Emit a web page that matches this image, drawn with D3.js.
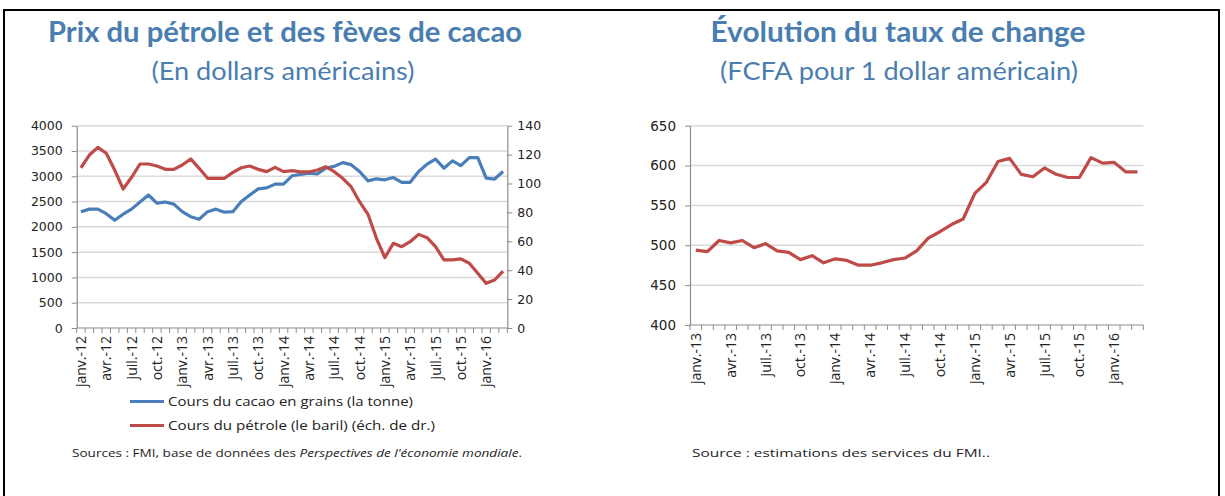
<!DOCTYPE html>
<html><head><meta charset="utf-8">
<script src="https://cdn.jsdelivr.net/npm/d3@7"></script>
<style>body{margin:0;background:#fff}svg{display:block}</style>
</head><body>
<svg id="c" width="1225" height="496"></svg>
<script>
// ---- data ----
const monthNames = ["janv.","févr.","mars","avr.","mai","juin","juil.","août","sept.","oct.","nov.","déc."];
function monthCats(startYear, n){ const out=[]; for(let i=0;i<n;i++){ const y=startYear+Math.floor(i/12); out.push(monthNames[i%12]+"-"+String(y).slice(2)); } return out; }
const categoriesLeft = monthCats(2012, 51);   // janv.-12 .. mars-16
const categoriesRight = monthCats(2013, 39);  // janv.-13 .. mars-16
const cocoa = [2300,2350,2350,2260,2130,2250,2350,2490,2630,2470,2490,2450,2300,2200,2150,2300,2350,2290,2300,2500,2630,2750,2770,2845,2845,3010,3035,3060,3045,3160,3195,3270,3230,3095,2910,2950,2930,2975,2880,2880,3095,3240,3340,3160,3305,3210,3370,3370,2965,2945,3095];
const oil = [110.9,119.7,125,120.9,109.3,96.2,104.3,113.5,113.5,112.1,109.8,109.8,112.8,117,110.5,103.6,103.6,103.6,107.7,110.9,112.1,109.8,108.2,111.2,108.2,108.9,108,108,109.3,111.6,108.2,103.6,97.8,87.4,78.7,62.1,48.7,58.6,56.3,59.7,64.8,62.5,56.3,47.1,47.1,47.8,44.8,37.9,30.9,33.2,39.4];
const fx = [494,492,506,503,506,497,502,493,491,482,487,478,483,481,475,475,478,482,484,493,509,517,526,533,565,579,605,609,589,586,597,589,585,585,610,603,604,592,592];
const leftTicks = [0,500,1000,1500,2000,2500,3000,3500,4000];
const rightTicks = [0,20,40,60,80,100,120,140];
const fxTicks = [400,450,500,550,600,650];
const legendLabels = ["Cours du cacao en grains (la tonne)","Cours du pétrole (le baril) (éch. de dr.)"];

const BLUE = "#4a7ebb", RED = "#be4b48", TITLE = "#4a7db0", AXIS = "#8c8c8c", GRID = "#d9d9d9";
const svg = d3.select("#c");

// frame
svg.append("rect").attr("x",4).attr("y",10).attr("width",1215).attr("height",500)
  .attr("fill","none").attr("stroke","#000").attr("stroke-width",2);

function title(x,y,txt,len,bold,size){
  svg.append("text").attr("x",x).attr("y",y).attr("text-anchor","middle")
    .attr("font-family","Lato, 'Open Sans', sans-serif").attr("font-weight",bold?700:400)
    .attr("font-size",size).attr("fill",TITLE)
    .attr("textLength",len).attr("lengthAdjust","spacingAndGlyphs").text(txt);
}
title(285,42,"Prix du pétrole et des fèves de cacao",474,true,28);
title(283,80,"(En dollars américains)",263,false,25);
title(898,42,"Évolution du taux de change",375,true,28);
title(899,80,"(FCFA pour 1 dollar américain)",358,false,25);

function xAxisDraw(g, x, y0, cats){
  const ax = g.append("g").attr("transform",`translate(0,${y0})`);
  ax.append("line").attr("x1",x.range()[0]).attr("x2",x.range()[1]).attr("stroke",AXIS).attr("stroke-width",1.2);
  const edges = cats.map(c=>x(c)).concat([x.range()[1]]);
  ax.selectAll("line.t").data(edges).join("line").attr("class","t")
    .attr("x1",d=>d).attr("x2",d=>d).attr("y1",0).attr("y2",5).attr("stroke",AXIS);
  ax.selectAll("text").data(cats.filter((c,i)=>i%3===0)).join("text")
    .attr("transform",d=>`translate(${x(d)+x.bandwidth()/2},8) rotate(-90)`)
    .attr("text-anchor","end").attr("dy","0.36em")
    .attr("font-family","'Open Sans', sans-serif").attr("font-size",14).attr("fill","#222").text(d=>d);
}
function grid(g, y, ticks, x0, x1){
  g.selectAll("line.g").data(ticks).join("line").attr("class","g")
    .attr("x1",x0).attr("x2",x1).attr("y1",d=>y(d)).attr("y2",d=>y(d)).attr("stroke",GRID).attr("stroke-width",1.5);
}
function styleAxis(sel, fs){
  sel.select(".domain").attr("stroke",AXIS).attr("stroke-width",1.2);
  sel.selectAll(".tick line").attr("stroke",AXIS);
  sel.selectAll(".tick text").attr("font-family","'DejaVu Sans', sans-serif").attr("font-size",fs).attr("fill","#222");
}
const fmt = d3.format("d");

// ---- left chart ----
{
  const g = svg.append("g");
  const x = d3.scaleBand().domain(categoriesLeft).range([76.7,507.3]).padding(0);
  const yL = d3.scaleLinear().domain([0,4000]).range([328,125.7]);
  const yR = d3.scaleLinear().domain([0,140]).range([328,125.7]);
  grid(g, yL, leftTicks.slice(1), 76.7, 507.3);
  const aL = g.append("g").attr("transform","translate(76.7,0)")
    .call(d3.axisLeft(yL).tickValues(leftTicks).tickFormat(fmt).tickSize(5).tickPadding(9).tickSizeOuter(0));
  styleAxis(aL, 12.5);
  const aR = g.append("g").attr("transform","translate(507.3,0)")
    .call(d3.axisRight(yR).tickValues(rightTicks).tickFormat(fmt).tickSize(5).tickPadding(5).tickSizeOuter(0));
  styleAxis(aR, 12.5);
  xAxisDraw(g, x, 328, categoriesLeft);
  const cx = c => x(c)+x.bandwidth()/2;
  g.append("path").datum(cocoa).attr("fill","none").attr("stroke",BLUE).attr("stroke-width",3.2).attr("stroke-linejoin","round")
    .attr("d", d3.line().x((d,i)=>cx(categoriesLeft[i])).y(d=>yL(d)));
  g.append("path").datum(oil).attr("fill","none").attr("stroke",RED).attr("stroke-width",3.2).attr("stroke-linejoin","round")
    .attr("d", d3.line().x((d,i)=>cx(categoriesLeft[i])).y(d=>yR(d)));
  // legend
  const lg = g.append("g");
  const cols=[BLUE,RED], ys=[401.5,425.5], lens=[245,267];
  legendLabels.forEach((t,i)=>{
    lg.append("line").attr("x1",130).attr("x2",164).attr("y1",ys[i]).attr("y2",ys[i]).attr("stroke",cols[i]).attr("stroke-width",3.2);
    lg.append("text").attr("x",168).attr("y",ys[i]).attr("dy","0.36em")
      .attr("font-family","'Open Sans', sans-serif").attr("font-size",13.5).attr("fill","#222")
      .attr("textLength",lens[i]).attr("lengthAdjust","spacingAndGlyphs").text(t);
  });
  const s = g.append("text").attr("x",72).attr("y",453).attr("dy","0.36em")
    .attr("font-family","'Open Sans', sans-serif").attr("font-size",10.5).attr("fill","#222")
    .attr("textLength",450).attr("lengthAdjust","spacingAndGlyphs");
  s.append("tspan").text("Sources :  FMI, base de données des ");
  s.append("tspan").attr("font-style","italic").text("Perspectives de l'économie mondiale");
  s.append("tspan").text(".");
}

// ---- right chart ----
{
  const g = svg.append("g");
  const x = d3.scaleBand().domain(categoriesRight).range([690,1143.3]).padding(0);
  const y = d3.scaleLinear().domain([400,650]).range([325,125.7]);
  grid(g, y, fxTicks.slice(1), 690, 1143.3);
  const aY = g.append("g").attr("transform","translate(690,0)")
    .call(d3.axisLeft(y).tickValues(fxTicks).tickFormat(fmt).tickSize(5).tickPadding(9).tickSizeOuter(0));
  styleAxis(aY, 13.5);
  xAxisDraw(g, x, 325, categoriesRight);
  const cx = c => x(c)+x.bandwidth()/2;
  g.append("path").datum(fx).attr("fill","none").attr("stroke",RED).attr("stroke-width",3.2).attr("stroke-linejoin","round")
    .attr("d", d3.line().x((d,i)=>cx(categoriesRight[i])).y(d=>y(d)));
  g.append("text").attr("x",692).attr("y",453).attr("dy","0.36em")
    .attr("font-family","'Open Sans', sans-serif").attr("font-size",10.5).attr("fill","#222")
    .attr("textLength",298).attr("lengthAdjust","spacingAndGlyphs")
    .text("Source :  estimations des services du FMI..");
}
</script>
</body></html>
